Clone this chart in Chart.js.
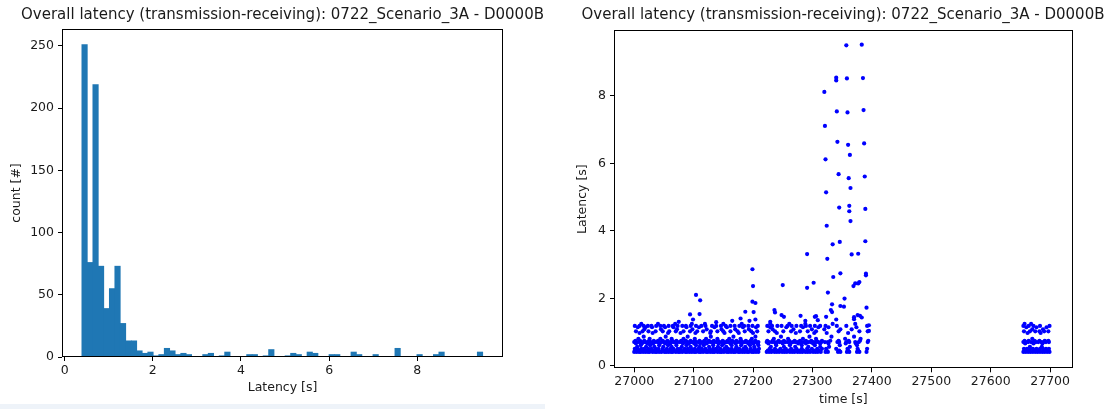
<!DOCTYPE html>
<html>
<head>
<meta charset="utf-8">
<script src="https://cdn.jsdelivr.net/npm/chart.js@4"></script>
<style>
  html, body { margin: 0; padding: 0; background: #fff; overflow: hidden; }
  body { width: 1111px; height: 409px; position: relative; }
  canvas { position: absolute; top: 0; }
  #strip { position: absolute; left: 0; top: 404px; width: 545px; height: 5px; background: #eef3f9; }
</style>
</head>
<body>
<div id="strip"></div>
<canvas id="hist" width="565" height="404" style="left:0"></canvas>
<canvas id="scatter" width="560" height="409" style="left:563px"></canvas>
<script>
const chartTitle = 'Overall latency (transmission-receiving): 0722_Scenario_3A - D0000B';

// histogram: 73 equal bins, first edge at binStart
const binStart = 0.39;
const binWidth = 0.1246;
const binCounts = [
  251, 76, 219, 73, 39, 55, 73, 27, 13, 13,
  5, 3, 4, 1, 2, 7, 5, 2, 3, 2,
  0, 0, 2, 3, 0, 1, 4, 0, 0, 0,
  2, 2, 0, 1, 6, 0, 0, 1, 3, 2,
  0, 4, 3, 0, 0, 2, 2, 0, 0, 4,
  2, 0, 0, 2, 0, 0, 0, 7, 0, 0,
  0, 2, 0, 0, 2, 4, 0, 0, 0, 0,
  0, 0, 4
];
const histXTicks = [0, 2, 4, 6, 8];
const histYTicks = [0, 50, 100, 150, 200, 250];

// scatter: send times (s) of the points sitting on each latency level
const bandLatency = [0.41, 0.45, 0.50, 0.56, 0.61, 0.66, 0.70, 0.74, 0.80, 0.86,
                     0.97, 1.02, 1.08, 1.14, 1.18, 1.24];
const band041 = [
  27000, 27004, 27008, 27011, 27015, 27019, 27023, 27026, 27031, 27035, 27038, 27042, 27046, 27051, 27054,
  27058, 27062, 27065, 27070, 27074, 27077, 27081, 27086, 27089, 27093, 27097, 27101, 27104, 27109, 27112,
  27116, 27121, 27124, 27128, 27132, 27135, 27140, 27144, 27147, 27151, 27156, 27159, 27163, 27167, 27170,
  27175, 27178, 27182, 27186, 27190, 27193, 27198, 27201, 27205, 27209,
  27223, 27227, 27231, 27236, 27240, 27244, 27249, 27253, 27257, 27262, 27266, 27270, 27275, 27279, 27283,
  27288, 27292, 27296, 27301, 27305, 27309, 27314,
  27322, 27326, 27343, 27347, 27358, 27362, 27375, 27379, 27391,
  27655, 27659, 27663, 27667, 27671, 27675, 27679, 27683, 27687, 27691, 27695, 27699
];
const band045 = [
  27002, 27009, 27013, 27021, 27028, 27033, 27040, 27047, 27053, 27060, 27067, 27072, 27079, 27084, 27091,
  27099, 27106, 27111, 27118, 27125, 27131, 27137, 27143, 27150, 27157, 27161, 27168, 27173, 27180, 27188,
  27195, 27200, 27207,
  27225, 27233, 27242, 27251, 27259, 27268, 27277, 27285, 27294, 27303, 27311,
  27324, 27345, 27360, 27377,
  27657, 27665, 27673, 27681, 27689, 27697
];
const band050 = [
  27001, 27006, 27012, 27017, 27024, 27029, 27036, 27041, 27048, 27055, 27061, 27066, 27073, 27078, 27085,
  27090, 27096, 27102, 27108, 27114, 27120, 27127, 27133, 27138, 27145, 27152, 27158, 27164, 27171, 27177,
  27184, 27189, 27196, 27203, 27210,
  27228, 27237, 27246, 27255, 27264, 27273, 27282, 27291, 27299, 27308, 27316,
  27323, 27340, 27359, 27376, 27392,
  27656, 27661, 27666, 27671, 27677, 27683, 27688, 27693, 27698
];
const band056 = [
  27005, 27020, 27034, 27049, 27063, 27080, 27095, 27110, 27126, 27141, 27155, 27172, 27187, 27202,
  27230, 27252, 27271, 27293, 27313,
  27328, 27363,
  27666, 27686
];
const band061 = [
  27011, 27027, 27042, 27057, 27071, 27088, 27104, 27117, 27133, 27148, 27164, 27180, 27195, 27209,
  27239, 27262, 27282, 27304,
  27346, 27375
];
const band066 = [
  27003, 27013, 27022, 27032, 27043, 27052, 27061, 27071, 27082, 27092, 27101, 27111, 27122, 27133, 27142,
  27151, 27162, 27171, 27181, 27192, 27201, 27208,
  27226, 27238, 27250, 27263, 27276, 27289, 27301, 27313,
  27327, 27356, 27373,
  27658, 27672, 27687
];
const band070 = [
  27000, 27004, 27008, 27012, 27016, 27019, 27023, 27027, 27031, 27035, 27039, 27042, 27046, 27050, 27054,
  27058, 27062, 27066, 27069, 27073, 27077, 27081, 27085, 27089, 27093, 27097, 27100, 27104, 27108, 27112,
  27116, 27120, 27124, 27128, 27131, 27135, 27139, 27143, 27147, 27151, 27155, 27158, 27162, 27166, 27170,
  27174, 27178, 27182, 27186, 27189, 27193, 27197, 27201, 27205, 27209,
  27223, 27227, 27232, 27236, 27241, 27245, 27249, 27254, 27258, 27262, 27267, 27271, 27275, 27280, 27284,
  27288, 27293, 27297, 27302, 27306, 27310, 27315,
  27321, 27326, 27342, 27345, 27357, 27362, 27372, 27378, 27393,
  27655, 27659, 27663, 27668, 27672, 27676, 27680, 27685, 27689, 27693, 27698
];
const band074 = [
  27002, 27010, 27017, 27025, 27033, 27040, 27048, 27056, 27064, 27071, 27079, 27087, 27095, 27102, 27110,
  27118, 27126, 27134, 27141, 27149, 27157, 27165, 27172, 27180, 27188, 27196, 27204,
  27224, 27233, 27243, 27252, 27261, 27270, 27279, 27289, 27298, 27307, 27316,
  27330, 27344, 27361, 27380, 27394,
  27657, 27664, 27674, 27682, 27691, 27697
];
const band080 = [
  27007, 27026, 27044, 27063, 27083, 27102, 27121, 27140, 27160, 27179, 27198,
  27235, 27259, 27284, 27306,
  27355, 27381,
  27670
];
const band086 = [
  27016, 27053, 27090, 27129, 27167, 27204,
  27247, 27295,
  27332, 27370
];
const band097 = [
  27009, 27031, 27057, 27078, 27103, 27128, 27152, 27176, 27200,
  27240, 27272, 27303,
  27324, 27360,
  27662, 27684
];
const band102 = [
  27003, 27014, 27024, 27036, 27048, 27059, 27070, 27083, 27094, 27106, 27116, 27129, 27140, 27150, 27162,
  27174, 27186, 27197, 27207,
  27226, 27237, 27251, 27264, 27279, 27292, 27306,
  27344, 27379, 27393,
  27656, 27666, 27675, 27682, 27690, 27697
];
const band108 = [
  27017, 27045, 27072, 27098, 27122, 27147, 27170, 27193,
  27233, 27268, 27299,
  27320, 27347, 27366,
  27670, 27688
];
const band114 = [
  27006, 27019, 27030, 27052, 27066, 27088, 27109, 27135, 27156, 27183, 27205,
  27229, 27256, 27284, 27310,
  27327, 27374,
  27660, 27677, 27694
];
const band118 = [
  27001, 27009, 27016, 27023, 27029, 27037, 27044, 27050, 27058, 27065, 27073, 27081, 27087, 27095, 27104,
  27113, 27120, 27131, 27138, 27146, 27154, 27162, 27169, 27177, 27185, 27192, 27199, 27208,
  27224, 27232, 27241, 27248, 27258, 27265, 27273, 27281, 27289, 27296, 27304, 27313,
  27322, 27341, 27357, 27392,
  27655, 27664, 27672, 27683, 27699
];
const band124 = [
  27012, 27040, 27069, 27097, 27119, 27150, 27181,
  27229, 27261, 27288,
  27334, 27372,
  27657, 27668
];
const bandTimes = [band041, band045, band050, band056, band061, band066, band070, band074, band080, band086,
                   band097, band102, band108, band114, band118, band124];

// points off the bands: [time, latency]
const outliers = [
  [27075, 1.30], [27094, 1.52], [27099, 1.37], [27104, 2.10], [27110, 1.53], [27111, 1.94],
  [27138, 1.29], [27165, 1.33], [27179, 1.40], [27187, 1.60], [27194, 1.33], [27199, 2.86],
  [27200, 2.36], [27199, 1.90], [27204, 1.86], [27201, 1.59], [27204, 1.37], [27229, 1.30],
  [27236, 1.65], [27237, 1.58], [27248, 1.50], [27250, 2.39], [27252, 1.45], [27280, 1.48],
  [27288, 1.33], [27291, 3.31], [27291, 2.31], [27302, 2.46], [27304, 1.45], [27306, 1.47],
  [27309, 1.35],
  [27320, 8.12], [27321, 7.11], [27322, 6.12], [27323, 5.14], [27324, 4.15], [27325, 3.17],
  [27326, 2.17], [27323, 1.45], [27334, 3.60], [27335, 2.63], [27333, 1.82], [27331, 1.65],
  [27333, 1.59], [27340, 1.37],
  [27340, 8.54], [27340, 8.46], [27341, 7.54], [27342, 6.64], [27344, 5.68], [27345, 4.69],
  [27346, 3.67], [27347, 2.74], [27347, 1.77], [27353, 1.75], [27354, 1.99],
  [27357, 9.50], [27358, 8.52], [27359, 7.51], [27360, 6.55], [27361, 5.56], [27362, 4.74],
  [27362, 4.58], [27363, 6.25], [27364, 5.27], [27364, 4.29], [27366, 3.30],
  [27369, 2.36], [27372, 2.44], [27377, 2.44], [27379, 2.48], [27377, 3.32], [27370, 1.44],
  [27370, 1.38], [27376, 1.50], [27380, 1.48], [27383, 1.43],
  [27383, 9.52], [27385, 8.53], [27386, 7.58], [27387, 6.59], [27388, 5.61], [27389, 4.65],
  [27389, 3.69], [27390, 2.73], [27390, 2.68], [27391, 1.72], [27395, 1.20], [27395, 1.03]
];
const scatterXTicks = [27000, 27100, 27200, 27300, 27400, 27500, 27600, 27700];
const scatterYTicks = [0, 2, 4, 6, 8];

const FONT = 'DejaVu Sans';
const TEXT = '#1a1a1a';
const TICK_SIZE = 12.5;

// matplotlib-like box around the plot area
const frame = {
  id: 'frame',
  afterDraw(chart) {
    const { ctx, chartArea: a } = chart;
    ctx.save();
    ctx.strokeStyle = '#000';
    ctx.lineWidth = 1;
    ctx.strokeRect(Math.round(a.left) + 0.5, Math.round(a.top) + 0.5,
      Math.round(a.right - a.left) - 1, Math.round(a.bottom - a.top) - 1);
    ctx.restore();
  }
};

function axis(tickValues, label, opts) {
  return {
    type: 'linear',
    position: opts.position,
    min: opts.min,
    max: opts.max,
    offset: false,
    afterBuildTicks: s => { s.ticks = tickValues.map(v => ({ value: v })); },
    afterFit: s => {
      if (opts.position === 'left') s.width = opts.size; else s.height = opts.size;
    },
    grid: { display: true, drawOnChartArea: false, drawTicks: true, tickLength: 4,
            color: '#000', tickColor: '#000', lineWidth: 1, offset: false },
    border: { display: false },
    ticks: { autoSkip: false, maxRotation: 0, padding: opts.tickPad, color: TEXT,
             font: { family: FONT, size: TICK_SIZE }, callback: v => String(v) },
    title: { display: true, text: label, color: TEXT, font: { family: FONT, size: TICK_SIZE },
             padding: opts.titlePad }
  };
}

function spacer(width) {
  return { position: 'right', display: true, grid: { display: false }, border: { display: false },
           ticks: { display: false }, afterFit: s => { s.width = width; } };
}

function titleOpts(top, bottom) {
  return { display: true, text: chartTitle, color: TEXT,
           font: { family: FONT, size: 15, weight: 'normal' }, padding: { top, bottom } };
}

new Chart(document.getElementById('hist'), {
  type: 'bar',
  data: {
    datasets: [{
      data: binCounts.map((c, i) => ({ x: binStart + (i + 0.5) * binWidth, y: c })),
      backgroundColor: '#1f77b4',
      borderWidth: 0,
      barPercentage: 1,
      categoryPercentage: 1
    }]
  },
  options: {
    responsive: false,
    animation: false,
    devicePixelRatio: 1,
    layout: { padding: 0 },
    plugins: { legend: { display: false }, tooltip: { enabled: false }, title: titleOpts(6.5, 4.5) },
    scales: {
      x: axis(histXTicks, 'Latency [s]', { position: 'bottom', min: -0.06, max: 9.945, size: 47,
                                           tickPad: 2, titlePad: { top: 0, bottom: 8.5 } }),
      y: axis(histYTicks, 'count [#]', { position: 'left', min: 0, max: 263.6, size: 62,
                                          tickPad: 4, titlePad: { top: 9.5, bottom: 0 } }),
      pad: spacer(62)
    }
  },
  plugins: [frame]
});

const scatterPoints = bandTimes
  .flatMap((times, b) => times.map(t => ({ x: t, y: bandLatency[b] })))
  .concat(outliers.map(([t, l]) => ({ x: t, y: l })));

new Chart(document.getElementById('scatter'), {
  type: 'scatter',
  data: {
    datasets: [{
      data: scatterPoints,
      pointRadius: 2.1,
      pointBorderWidth: 0,
      pointBackgroundColor: '#0000ff',
      showLine: false
    }]
  },
  options: {
    responsive: false,
    animation: false,
    devicePixelRatio: 1,
    layout: { padding: 0 },
    plugins: { legend: { display: false }, tooltip: { enabled: false }, title: titleOpts(6.5, 5.5) },
    scales: {
      x: axis(scatterXTicks, 'time [s]', { position: 'bottom', min: 26966, max: 27738, size: 40.7,
                                          tickPad: 2, titlePad: { top: 0, bottom: 1.5 } }),
      y: axis(scatterYTicks, 'Latency [s]', { position: 'left', min: -0.077, max: 9.955, size: 51,
                                              tickPad: 4, titlePad: { top: 12.5, bottom: 0 } }),
      pad: spacer(50.3)
    }
  },
  plugins: [frame]
});
</script>
</body>
</html>
